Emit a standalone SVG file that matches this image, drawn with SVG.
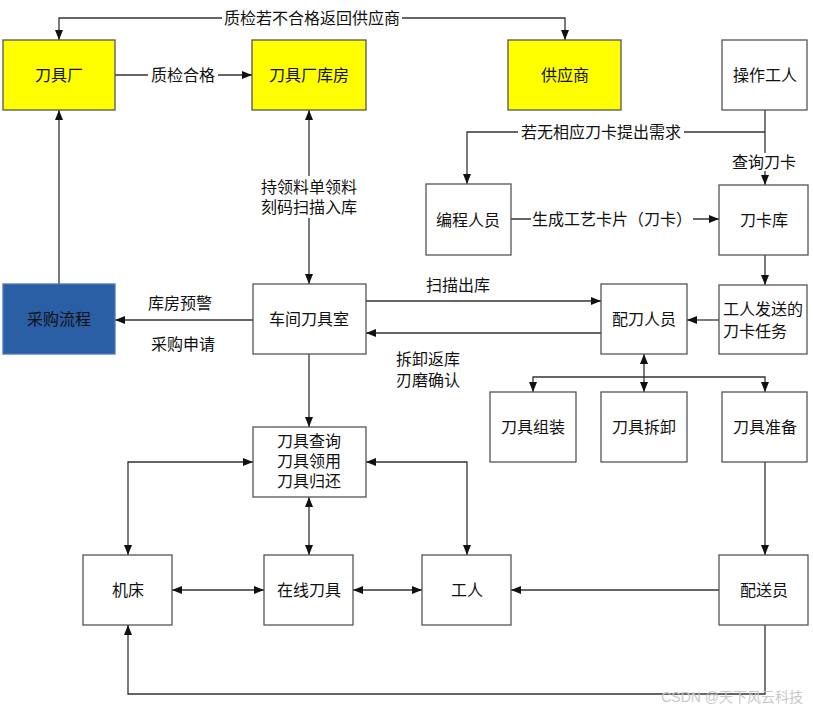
<svg xmlns="http://www.w3.org/2000/svg" width="813" height="708" viewBox="0 0 813 708">
<style>
.box{fill:#fff;stroke:#555;stroke-width:1.3}
.y{fill:#ffff00}
.b{fill:#2a5ea5;stroke:#4a78b8}
text{font-family:"Liberation Serif","Noto Sans CJK SC",serif;font-size:16px;fill:#111;text-anchor:middle;dominant-baseline:central}
.c{fill:none;stroke:#333;stroke-width:1.3}
.bg{fill:#fff}
.wm{font-family:"Liberation Sans","Noto Sans CJK SC",sans-serif;fill:#c8c8c8;font-size:14px;text-anchor:end}
</style>
<defs>
<marker id="a" viewBox="0 0 10 10" refX="10" refY="5" markerWidth="10" markerHeight="10" markerUnits="userSpaceOnUse" orient="auto-start-reverse"><path d="M0,1 L10,5 L0,9 Z" fill="#111"/></marker>
</defs>
<rect width="813" height="708" fill="#fff"/>
<g id="connectors">
<polyline class="c" points="59,40 59,18 565,18 565,40" marker-start="url(#a)" marker-end="url(#a)"/>
<line class="c" x1="115" y1="75" x2="252" y2="75" marker-end="url(#a)"/>
<line class="c" x1="59" y1="284" x2="59" y2="110" marker-end="url(#a)"/>
<line class="c" x1="309" y1="110" x2="309" y2="284" marker-start="url(#a)" marker-end="url(#a)"/>
<line class="c" x1="253" y1="320" x2="115" y2="320" marker-end="url(#a)"/>
<line class="c" x1="366" y1="301" x2="601" y2="301" marker-end="url(#a)"/>
<line class="c" x1="601" y1="333" x2="366" y2="333" marker-end="url(#a)"/>
<line class="c" x1="765" y1="110" x2="765" y2="185" marker-end="url(#a)"/>
<polyline class="c" points="765,132 467,132 467,184" marker-end="url(#a)"/>
<line class="c" x1="511" y1="219" x2="719" y2="219" marker-end="url(#a)"/>
<line class="c" x1="765" y1="255" x2="765" y2="285" marker-end="url(#a)"/>
<line class="c" x1="719" y1="320" x2="687" y2="320" marker-end="url(#a)"/>
<line class="c" x1="644" y1="354" x2="644" y2="392" marker-start="url(#a)" marker-end="url(#a)" stroke-width="2"/>
<polyline class="c" points="533,392 533,377 765,377 765,392" marker-start="url(#a)" marker-end="url(#a)"/>
<line class="c" x1="765" y1="462" x2="765" y2="555" marker-end="url(#a)"/>
<line class="c" x1="309" y1="354" x2="309" y2="427" marker-end="url(#a)"/>
<polyline class="c" points="253,462 128,462 128,555" marker-start="url(#a)" marker-end="url(#a)"/>
<polyline class="c" points="366,462 467,462 467,555" marker-start="url(#a)" marker-end="url(#a)"/>
<line class="c" x1="309" y1="497" x2="309" y2="555" marker-start="url(#a)" marker-end="url(#a)"/>
<line class="c" x1="172" y1="590" x2="264" y2="590" marker-start="url(#a)" marker-end="url(#a)"/>
<line class="c" x1="353" y1="590" x2="422" y2="590" marker-start="url(#a)" marker-end="url(#a)"/>
<line class="c" x1="719" y1="590" x2="511" y2="590" marker-end="url(#a)"/>
<polyline class="c" points="765,625 765,694 128,694 128,625" marker-end="url(#a)"/>
<rect class="bg" x="222" y="9" width="180" height="18"/>
<rect class="bg" x="148" y="66" width="70" height="18"/>
<rect class="bg" x="258" y="176" width="102" height="42"/>
<rect class="bg" x="518" y="123" width="166" height="18"/>
<rect class="bg" x="729" y="153" width="70" height="18"/>
<rect class="bg" x="531" y="210" width="162" height="18"/>
<text x="312" y="18">质检若不合格返回供应商</text>
<text x="183" y="75">质检合格</text>
<text x="309" y="187">持领料单领料</text>
<text x="309" y="207">刻码扫描入库</text>
<text x="180" y="303">库房预警</text>
<text x="183" y="344">采购申请</text>
<text x="458" y="285">扫描出库</text>
<text x="428" y="359">拆卸返库</text>
<text x="428" y="380">刃磨确认</text>
<text x="601" y="132">若无相应刀卡提出需求</text>
<text x="764" y="162">查询刀卡</text>
<text x="612" y="219">生成工艺卡片（刀卡）</text>
</g>
<g id="n1"><rect class="box y" x="3" y="40" width="112" height="70"/><text x="59" y="75">刀具厂</text></g>
<g id="n2"><rect class="box y" x="252" y="40" width="114" height="70"/><text x="309" y="75">刀具厂库房</text></g>
<g id="n3"><rect class="box y" x="508" y="40" width="113" height="70"/><text x="565" y="75">供应商</text></g>
<g id="n4"><rect class="box" x="722" y="40" width="85" height="70"/><text x="765" y="75">操作工人</text></g>
<g id="n5"><rect class="box" x="426" y="184" width="85" height="71"/><text x="468" y="220">编程人员</text></g>
<g id="n6"><rect class="box" x="719" y="185" width="89" height="70"/><text x="764" y="220">刀卡库</text></g>
<g id="n7"><rect class="box b" x="3" y="284" width="112" height="70"/><text x="59" y="319">采购流程</text></g>
<g id="n8"><rect class="box" x="253" y="284" width="113" height="70"/><text x="309" y="319">车间刀具室</text></g>
<g id="n9"><rect class="box" x="601" y="284" width="86" height="70"/><text x="644" y="319">配刀人员</text></g>
<g id="n10"><rect class="box" x="719" y="285" width="88" height="69"/><text x="763" y="309">工人发送的</text><text x="755" y="331">刀卡任务</text></g>
<g id="n11"><rect class="box" x="490" y="392" width="86" height="70"/><text x="533" y="427">刀具组装</text></g>
<g id="n12"><rect class="box" x="601" y="392" width="86" height="70"/><text x="644" y="427">刀具拆卸</text></g>
<g id="n13"><rect class="box" x="722" y="392" width="85" height="70"/><text x="765" y="427">刀具准备</text></g>
<g id="n14"><rect class="box" x="253" y="427" width="113" height="70"/><text x="309" y="441">刀具查询</text><text x="309" y="461">刀具领用</text><text x="309" y="481">刀具归还</text></g>
<g id="n15"><rect class="box" x="83" y="555" width="89" height="70"/><text x="128" y="590">机床</text></g>
<g id="n16"><rect class="box" x="264" y="555" width="89" height="70"/><text x="309" y="590">在线刀具</text></g>
<g id="n17"><rect class="box" x="422" y="555" width="89" height="70"/><text x="467" y="590">工人</text></g>
<g id="n18"><rect class="box" x="719" y="555" width="89" height="70"/><text x="764" y="590">配送员</text></g>
<text class="wm" x="803" y="697">CSDN @天下风云科技</text>
</svg>
